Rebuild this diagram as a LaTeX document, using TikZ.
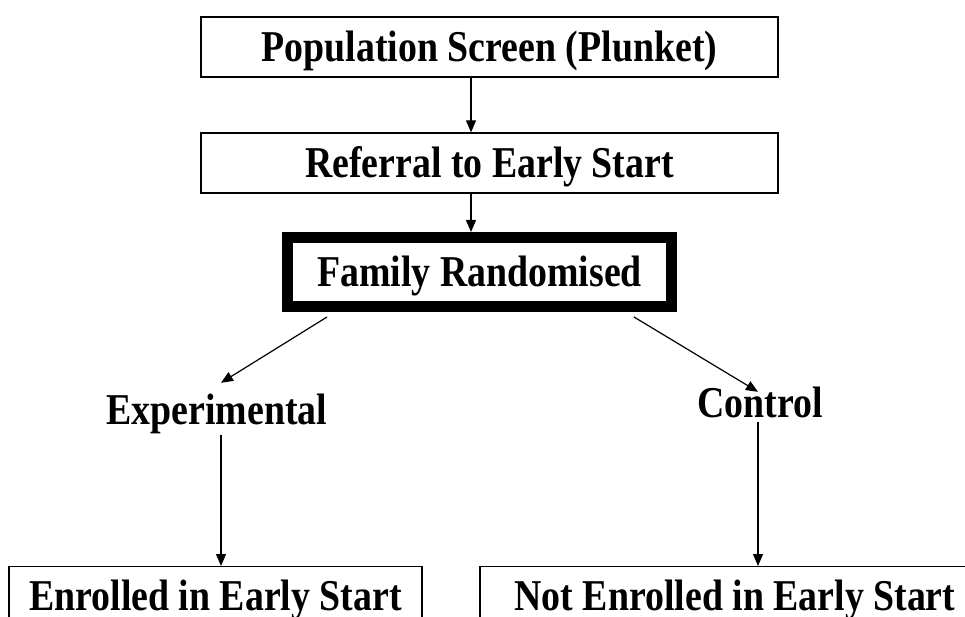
\documentclass[tikz,border=0pt]{standalone}
\usepackage{fontspec}
\setmainfont[FakeStretch=0.86]{Liberation Serif}
\usetikzlibrary{arrows.meta}

\begin{document}
\begin{tikzpicture}[x=1pt,y=-1pt,
  every node/.style={font=\fontsize{44}{50}\selectfont\bfseries, inner sep=0pt, text height=29pt, text depth=0pt},
  box/.style={draw, line width=1.3pt, minimum width=577pt, minimum height=60pt},
  bigbox/.style={draw, line width=11pt, minimum width=384pt, minimum height=69pt},
  endbox/.style={draw, line width=1.3pt, anchor=north, inner ysep=15pt},
  arr/.style={line width=1.2pt, -{Triangle[length=12pt,width=10pt]}}]
\useasboundingbox (0,0) rectangle (965,617);
\clip (0,0) rectangle (965,617);
\node[box] (pop) at (489.5,47) {Population Screen (Plunket)};
\node[box] (ref) at (489.5,163) {Referral to Early Start};
\node[bigbox] (rand) at (479.5,272) {Family Randomised};
\node[anchor=base, text depth=11pt] (exp) at (217,424) {Experimental};
\node[anchor=base, text depth=5pt] (ctrl) at (760,417) {Control};
\node[endbox, minimum width=413pt] (enr) at (215.5,566) {Enrolled in Early Start};
\node[endbox, minimum width=510pt] (notenr) at (735,566) {Not Enrolled in Early Start};
\draw[arr] ([xshift=-18.5pt]pop.south) -- ([xshift=-18.5pt]ref.north);
\draw[arr] ([xshift=-18.5pt]ref.south) -- ([xshift=-8.5pt]rand.north);
\draw[arr] ([xshift=45pt,yshift=-5pt]rand.south west) -- ([xshift=4pt,yshift=12pt]exp.north);
\draw[arr] ([xshift=-43pt,yshift=-5pt]rand.south east) -- ([xshift=-2pt,yshift=-4pt]ctrl.north);
\draw[arr] ([xshift=4pt]exp.south) -- ([xshift=5.5pt]enr.north);
\draw[arr] ([xshift=-2pt]ctrl.south) -- ([xshift=23pt]notenr.north);
\end{tikzpicture}
\end{document}
